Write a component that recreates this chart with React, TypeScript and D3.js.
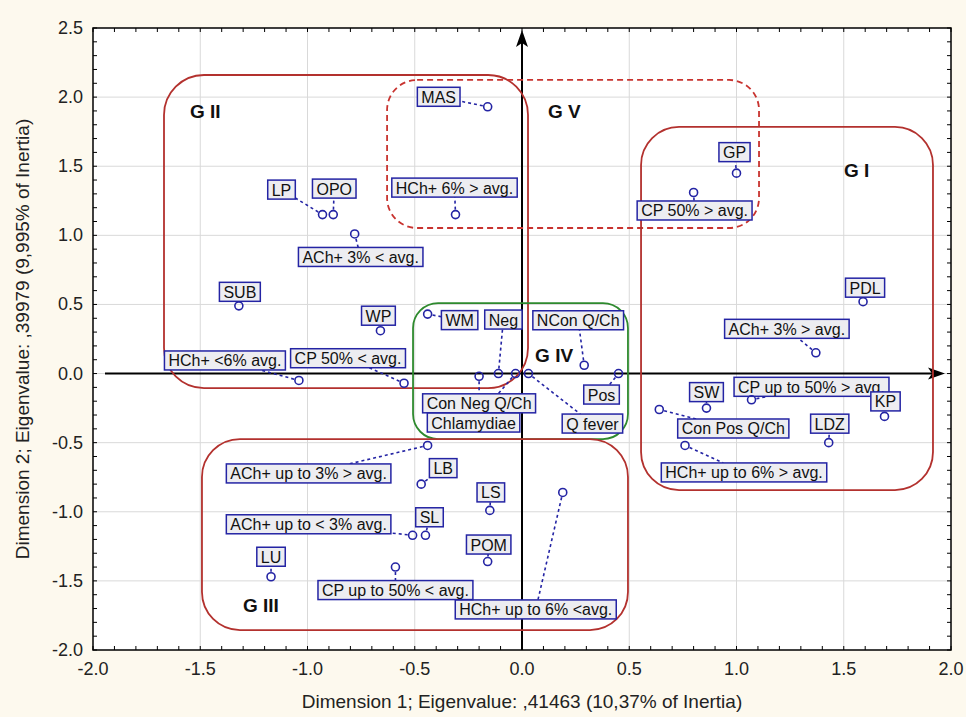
import React, { useEffect, useRef } from "react"
import * as d3 from "d3"

// correspondence analysis: category labels + coordinates
const labels = [
  "MAS", "HCh+ 6% > avg.", "LP", "OPO", "ACh+ 3% < avg.", "SUB", "WP", "WM",
  "HCh+ <6% avg.", "CP 50% < avg.", "Con Neg Q/Ch", "Neg", "Chlamydiae", "Q fever",
  "NCon Q/Ch", "Pos", "ACh+ up to 3% > avg.", "LB", "LS", "HCh+ up to 6% <avg.",
  "SL", "ACh+ up to < 3% avg.", "POM", "LU", "CP up to 50% < avg.", "GP",
  "CP 50% > avg.", "PDL", "ACh+ 3% > avg.", "Con Pos Q/Ch", "SW",
  "CP up to 50% > avg.", "KP", "LDZ", "HCh+ up to 6% > avg.",
]
const dim1 = [
  -0.16, -0.31, -0.93, -0.88, -0.78, -1.32, -0.66, -0.44,
  -1.04, -0.55, -0.2, -0.11, -0.03, 0.03,
  0.29, 0.45, -0.44, -0.47, -0.15, 0.19,
  -0.45, -0.51, -0.16, -1.17, -0.59, 1.0,
  0.8, 1.59, 1.37, 0.64, 0.86,
  1.07, 1.69, 1.43, 0.76,
]
const dim2 = [
  1.93, 1.15, 1.15, 1.15, 1.01, 0.49, 0.31, 0.43,
  -0.05, -0.07, -0.02, 0.0, 0.0, 0.0,
  0.06, 0.0, -0.52, -0.8, -0.99, -0.86,
  -1.17, -1.17, -1.36, -1.47, -1.4, 1.45,
  1.31, 0.52, 0.15, -0.26, -0.25,
  -0.19, -0.31, -0.5, -0.52,
]
// label box centre offset from its point, in px
const labelOffsets = [
  [-49, -10], [-1, -27], [-41, -25], [1, -26], [6, 23], [1, -14], [-2, -15], [32, 6],
  [-74, -20], [-56, -25], [0, 27], [5, -54], [-42, 49], [64, 50],
  [-6, -45], [-17, 21], [-119, 28], [22, -16], [1, -18], [-27, 117],
  [4, -18], [-104, -11], [1, -17], [0, -20], [0, 23], [-2, -21],
  [1, 18], [2, -14], [-29, -24], [74, 19], [0, -16],
  [60, -13], [1, -15], [1, -19], [59, 27],
]

// groups drawn as rounded frames (data coords)
const groupNames = ["G II", "G V", "G I", "G IV", "G III"]
const groupX0 = [-1.669, -0.629, 0.555, -0.508, -1.492]
const groupX1 = [0.028, 1.105, 1.916, 0.494, 0.494]
const groupY0 = [2.16, 2.124, 1.784, 0.51, -0.474]
const groupY1 = [-0.105, 1.053, -0.843, -0.474, -1.856]
const groupLabelX = [-1.548, 0.121, 1.501, 0.061, -1.301]
const groupLabelY = [1.849, 1.849, 1.422, 0.083, -1.726]
const groupColor = ["#b3312e", "#c8332f", "#b3312e", "#2e8a2e", "#b3312e"]
const groupDash = [null, "6,4", null, null, null]
const groupRadius = [40, 30, 38, 25, 38]

const xTicks = [-2.0, -1.5, -1.0, -0.5, 0.0, 0.5, 1.0, 1.5, 2.0]
const yTicks = [-2.0, -1.5, -1.0, -0.5, 0.0, 0.5, 1.0, 1.5, 2.0, 2.5]

const W = 966
const H = 717

export default function App() {
  const ref = useRef<SVGSVGElement>(null)

  useEffect(() => {
    const svg = d3.select(ref.current)
    svg.selectAll("*").remove()

    const left = 93, right = 951, top = 28, bottom = 650
    const x = d3.scaleLinear().domain([-2, 2]).range([left, right])
    const y = d3.scaleLinear().domain([-2, 2.5]).range([bottom, top])
    const font = "Arial, 'Liberation Sans', sans-serif"

    svg.append("rect").attr("width", W).attr("height", H).attr("fill", "#fdf9ee")
    svg.append("rect")
      .attr("x", left).attr("y", top)
      .attr("width", right - left).attr("height", bottom - top)
      .attr("fill", "#ffffff")

    // grid
    const grid = svg.append("g").attr("stroke", "#d9d9d9").attr("stroke-width", 1)
    xTicks.slice(1, -1).forEach((t) => {
      grid.append("line").attr("x1", x(t)).attr("x2", x(t)).attr("y1", top).attr("y2", bottom)
    })
    yTicks.slice(1, -1).forEach((t) => {
      grid.append("line").attr("y1", y(t)).attr("y2", y(t)).attr("x1", left).attr("x2", right)
    })

    // minor ticks on all four sides, pointing in
    const tk = svg.append("g").attr("stroke", "#000").attr("stroke-width", 1)
    d3.range(-20, 21).forEach((i) => {
      const v = i / 10
      tk.append("line").attr("x1", x(v)).attr("x2", x(v)).attr("y1", bottom).attr("y2", bottom - 4)
      tk.append("line").attr("x1", x(v)).attr("x2", x(v)).attr("y1", top).attr("y2", top + 4)
    })
    d3.range(-20, 26).forEach((i) => {
      const v = i / 10
      tk.append("line").attr("y1", y(v)).attr("y2", y(v)).attr("x1", left).attr("x2", left + 4)
      tk.append("line").attr("y1", y(v)).attr("y2", y(v)).attr("x1", right).attr("x2", right - 4)
    })

    svg.append("rect")
      .attr("x", left).attr("y", top)
      .attr("width", right - left).attr("height", bottom - top)
      .attr("fill", "none").attr("stroke", "#000").attr("stroke-width", 1.5)

    // tick labels
    svg.append("g").selectAll("text").data(xTicks).enter().append("text")
      .attr("x", (d) => x(d)).attr("y", bottom + 25)
      .attr("text-anchor", "middle")
      .attr("font-family", font).attr("font-size", 18).attr("fill", "#222")
      .text((d) => d.toFixed(1))
    svg.append("g").selectAll("text").data(yTicks).enter().append("text")
      .attr("x", left - 10).attr("y", (d) => y(d) + 6)
      .attr("text-anchor", "end")
      .attr("font-family", font).attr("font-size", 18).attr("fill", "#222")
      .text((d) => d.toFixed(1))

    svg.append("text")
      .attr("x", (left + right) / 2).attr("y", 708)
      .attr("text-anchor", "middle")
      .attr("font-family", font).attr("font-size", 19).attr("fill", "#222")
      .text("Dimension 1; Eigenvalue: ,41463 (10,37% of Inertia)")
    svg.append("text")
      .attr("transform", `translate(29,${(top + bottom) / 2}) rotate(-90)`)
      .attr("text-anchor", "middle")
      .attr("font-family", font).attr("font-size", 19).attr("fill", "#222")
      .text("Dimension 2; Eigenvalue: ,39979 (9,995% of Inertia)")

    // central axes with arrows
    const ax = svg.append("g")
    const y0 = y(0), x0 = x(0)
    const xTip = right - 6
    const yTip = top + 2
    ax.append("line").attr("x1", 105).attr("x2", xTip - 8).attr("y1", y0).attr("y2", y0)
      .attr("stroke", "#000").attr("stroke-width", 2)
    ax.append("path")
      .attr("d", `M${xTip},${y0} L${xTip - 17},${y0 - 6} L${xTip - 13},${y0} L${xTip - 17},${y0 + 6} Z`)
      .attr("fill", "#000")
    ax.append("line").attr("x1", x0).attr("x2", x0).attr("y1", bottom).attr("y2", yTip + 8)
      .attr("stroke", "#000").attr("stroke-width", 2)
    ax.append("path")
      .attr("d", `M${x0},${yTip} L${x0 - 6},${yTip + 17} L${x0},${yTip + 13} L${x0 + 6},${yTip + 17} Z`)
      .attr("fill", "#000")

    // group frames
    groupNames.forEach((name, i) => {
      const gx0 = x(groupX0[i]), gx1 = x(groupX1[i])
      const gy0 = y(groupY0[i]), gy1 = y(groupY1[i])
      svg.append("rect")
        .attr("x", gx0).attr("y", gy0)
        .attr("width", gx1 - gx0).attr("height", gy1 - gy0)
        .attr("rx", groupRadius[i]).attr("ry", groupRadius[i])
        .attr("fill", "none")
        .attr("stroke", groupColor[i]).attr("stroke-width", 1.8)
        .attr("stroke-dasharray", groupDash[i])
      svg.append("text")
        .attr("x", x(groupLabelX[i])).attr("y", y(groupLabelY[i]))
        .attr("font-family", font).attr("font-size", 19).attr("font-weight", "bold")
        .attr("fill", "#111")
        .text(name.replace(" ", "\u00a0"))
    })

    // points, leaders and label boxes
    const navy = "#2424a4"
    const r = 4
    const pts = labels.map((lab, i) => ({
      lab,
      px: x(dim1[i]),
      py: y(dim2[i]),
      cx: x(dim1[i]) + labelOffsets[i][0],
      cy: y(dim2[i]) + labelOffsets[i][1],
    }))

    const leaders = svg.append("g")
    const boxes = svg.append("g")
    pts.forEach((p) => {
      const g = boxes.append("g")
      const rect = g.append("rect")
      const t = g.append("text")
        .attr("x", p.cx).attr("y", p.cy + 6)
        .attr("text-anchor", "middle")
        .attr("font-family", font).attr("font-size", 16).attr("fill", "#111")
        .text(p.lab)
      const tw = (t.node() as SVGTextElement).getComputedTextLength()
      const hw = tw / 2 + 4
      const hh = 9.5
      rect.attr("x", p.cx - hw).attr("y", p.cy - hh)
        .attr("width", hw * 2).attr("height", hh * 2)
        .attr("fill", "#ededf1").attr("stroke", navy).attr("stroke-width", 1.5)

      const dx = p.px - p.cx, dy = p.py - p.cy
      const s = Math.min(dx === 0 ? Infinity : hw / Math.abs(dx), dy === 0 ? Infinity : hh / Math.abs(dy))
      if (s < 1) {
        const ex = p.cx + s * dx, ey = p.cy + s * dy
        const len = Math.hypot(p.px - ex, p.py - ey)
        if (len > r + 2) {
          const ux = (ex - p.px) / len, uy = (ey - p.py) / len
          leaders.append("line")
            .attr("x1", p.px + ux * (r + 1)).attr("y1", p.py + uy * (r + 1))
            .attr("x2", ex).attr("y2", ey)
            .attr("stroke", navy).attr("stroke-width", 1.6)
            .attr("stroke-dasharray", "3,3")
        }
      }
    })

    svg.append("g").selectAll("circle").data(pts).enter().append("circle")
      .attr("cx", (d) => d.px).attr("cy", (d) => d.py).attr("r", r)
      .attr("fill", "none").attr("stroke", navy).attr("stroke-width", 1.6)
  }, [])

  return (
    <svg
      ref={ref}
      width={W}
      height={H}
      style={{ position: "absolute", left: 0, top: 0, display: "block" }}
    />
  )
}
